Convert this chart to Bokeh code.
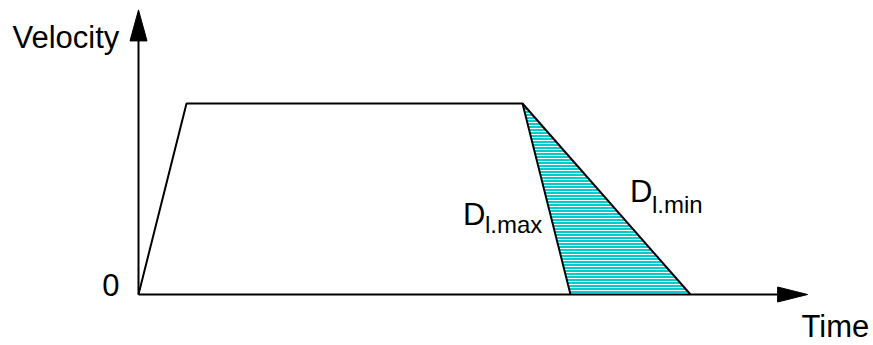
from bokeh.plotting import figure
from bokeh.models import Range1d
from bokeh.core.properties import value
from bokeh.embed import file_html
from bokeh.resources import INLINE

# ---- data (time / velocity units) ----
profile_time = [0.0, 1.0, 8.0, 9.0]      # start, end of accel, start of decel, stop at D_l.max
profile_vel = [0.0, 1.0, 1.0, 0.0]
dmin_time = [8.0, 11.5]                  # decel with D_l.min
dmin_vel = [1.0, 0.0]
region_time = [8.0, 9.0, 11.5]           # area between the two decelerations
region_vel = [1.0, 0.0, 0.0]
axis_time_max = 13.94
axis_vel_max = 1.49
y_label = "Velocity"
x_label = "Time"
origin_label = "0"
d_main = ["D", "D"]
d_subs = ["l.max", "l.min"]

# ---- layout ----
W, H = 873, 345
PX_T = 48.0      # pixels per time unit
PX_V = 191.0     # pixels per velocity unit
OX, OY = 138, 294  # origin in canvas pixels (from left, from top)
TEXT_SHIFT = 11    # compensates for the renderer's baseline offset
FONT = value("Liberation Sans")


def pt(xp):
    return (xp - OX) / PX_T


def pv(yp):
    return (OY - (yp - TEXT_SHIFT)) / PX_V


p = figure(width=W, height=H,
           x_range=Range1d(-OX / PX_T, (W - OX) / PX_T),
           y_range=Range1d(-(H - OY) / PX_V, OY / PX_V),
           output_backend="svg", toolbar_location=None, min_border=0,
           x_axis_type=None, y_axis_type=None)
p.outline_line_color = None
p.grid.visible = False
p.background_fill_color = "white"
p.border_fill_color = "white"

# hatched region
p.patch(region_time, region_vel, fill_color="#00CCCC", hatch_pattern="horizontal_line",
        hatch_color="white", hatch_scale=3, hatch_weight=1, line_color=None)

# profile lines
p.line(profile_time, profile_vel, line_color="black", line_width=2)
p.line(dmin_time, dmin_vel, line_color="black", line_width=2)

# axes with arrow heads
vh_len, vh_half = 31 / PX_V, 8.5 / PX_T
hh_len, hh_half = 30 / PX_T, 7.5 / PX_V
p.line([0, 0], [0, axis_vel_max - vh_len], line_color="black", line_width=2)
p.line([0, axis_time_max - hh_len], [0, 0], line_color="black", line_width=2)
p.patch([-vh_half, 0, vh_half], [axis_vel_max - vh_len, axis_vel_max, axis_vel_max - vh_len],
        fill_color="black", line_color="black", line_width=1)
p.patch([axis_time_max - hh_len, axis_time_max, axis_time_max - hh_len], [-hh_half, 0, hh_half],
        fill_color="black", line_color="black", line_width=1)

# texts
p.text(x=[pt(12), pt(801)], y=[pv(48), pv(337)], text=[y_label, x_label],
       text_font=FONT, text_font_size="31px", text_baseline="alphabetic", text_align="left",
       text_color="black")
p.text(x=[pt(119)], y=[pv(295)], text=[origin_label],
       text_font=FONT, text_font_size="31px", text_baseline="alphabetic", text_align="right",
       text_color="black")
p.text(x=[pt(462.5), pt(629.5)], y=[pv(225), pv(202)], text=d_main,
       text_font=FONT, text_font_size="31px", text_baseline="alphabetic", text_align="left",
       text_color="black")
p.text(x=[pt(484.5), pt(651.5)], y=[pv(235), pv(215)], text=d_subs,
       text_font=FONT, text_font_size="24px", text_baseline="alphabetic", text_align="left",
       text_color="black")

open("out.html", "w").write(file_html(p, INLINE))
